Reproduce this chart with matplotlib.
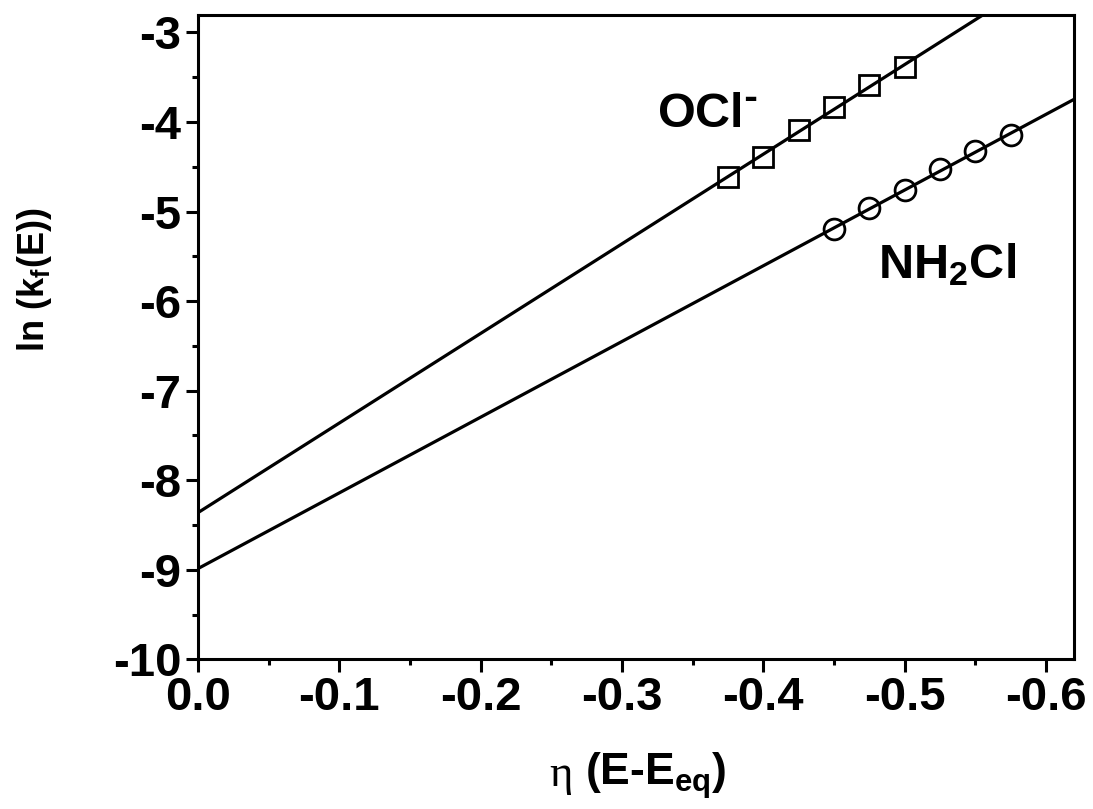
import numpy as np
import matplotlib
matplotlib.use("Agg")
import matplotlib.pyplot as plt
from matplotlib.ticker import MultipleLocator, FixedLocator, FixedFormatter

plt.rcParams['font.family'] = ['Liberation Sans', 'DejaVu Sans']
plt.rcParams['font.weight'] = 'bold'
plt.rcParams['axes.unicode_minus'] = False
plt.rcParams['mathtext.default'] = 'regular'

# data
ocl_eta = [-0.375, -0.400, -0.425, -0.450, -0.475, -0.500]
ocl_lnk = [-4.61, -4.39, -4.09, -3.83, -3.59, -3.39]
nh2cl_eta = [-0.450, -0.475, -0.500, -0.525, -0.550, -0.575]
nh2cl_lnk = [-5.20, -4.96, -4.76, -4.53, -4.32, -4.15]

xticks = [0.0, -0.1, -0.2, -0.3, -0.4, -0.5, -0.6]
xlabels = ['0.0', '-0.1', '-0.2', '-0.3', '-0.4', '-0.5', '-0.6']

fig = plt.figure(figsize=(10.93, 8.09), dpi=100)
ax = fig.add_axes([0.181, 0.185, 0.802, 0.797])

# linear fits drawn over the full axis range
xfit = np.array([0.0, -0.62])
for xs, ys in [(ocl_eta, ocl_lnk), (nh2cl_eta, nh2cl_lnk)]:
    p = np.polyfit(xs, ys, 1)
    ax.plot(xfit, np.polyval(p, xfit), color='black', lw=2.3)

ax.plot(ocl_eta, ocl_lnk, ls='none', marker='s', ms=14, mfc='none',
        mec='black', mew=2.0)
ax.plot(nh2cl_eta, nh2cl_lnk, ls='none', marker='o', ms=15, mfc='none',
        mec='black', mew=2.0)

ax.text(-0.325, -4.05, r'OCl$^{\text{-}}$', fontsize=35, fontweight='bold',
        ha='left', va='baseline')
ax.text(-0.481, -5.74, 'NH$_2$Cl', fontsize=35, fontweight='bold',
        ha='left', va='baseline')

ax.set_xlim(0, -0.62)
ax.set_ylim(-10, -2.8)
ax.xaxis.set_major_locator(FixedLocator(xticks))
ax.xaxis.set_major_formatter(FixedFormatter(xlabels))
ax.xaxis.set_minor_locator(MultipleLocator(0.05))
ax.yaxis.set_major_locator(MultipleLocator(1))
ax.yaxis.set_minor_locator(MultipleLocator(0.5))

ax.tick_params(which='major', direction='out', length=9, width=2.2,
               labelsize=34, pad=3)
ax.tick_params(which='minor', direction='out', length=4.5, width=2.2)
for lab in ax.get_xticklabels() + ax.get_yticklabels():
    lab.set_fontweight('bold')
for s in ax.spines.values():
    s.set_linewidth(2.2)

# x label: upright serif eta + bold sans part
xl = ax.set_xlabel('(E-E$_{eq}$)', fontsize=32, fontweight='bold')
ax.xaxis.set_label_coords(0.523, -0.140)
ax.annotate('η', xy=(0, 0), xycoords=xl, xytext=(-9, 4),
            textcoords='offset points', ha='right', va='bottom',
            fontsize=32, fontweight='normal', family='Liberation Serif')

ax.set_ylabel('ln (k$_f$(E))', fontsize=26, fontweight='bold')
ax.yaxis.set_label_coords(-0.164, 0.589)

fig.savefig('out.png', dpi=100)
